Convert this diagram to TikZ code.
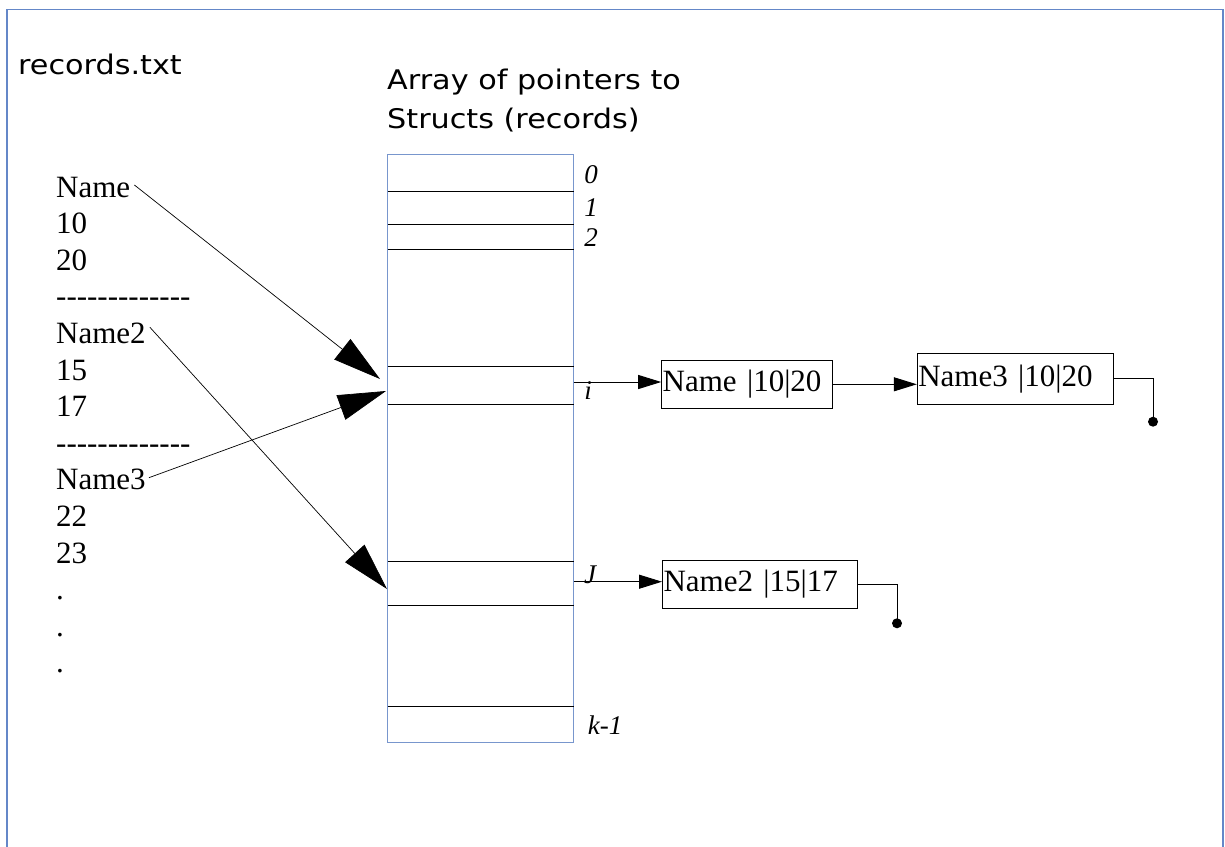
\documentclass[tikz,border=0pt]{standalone}
\usepackage{fontspec}
\setmainfont{Liberation Serif}
\newfontfamily\comic[FakeStretch=1.12]{DejaVu Sans}
\usetikzlibrary{arrows.meta}
\definecolor{framecol}{RGB}{100,135,200}
\definecolor{arrcol}{RGB}{120,150,205}
\newcommand\dashrow{-\kern0pt-\kern0pt-\kern0pt-\kern0pt-\kern0pt-\kern0pt-\kern0pt-\kern0pt-\kern0pt-\kern0pt-\kern0pt-\kern0pt-}
\tikzset{
  txt/.style={inner sep=0pt, anchor=base west, font=\fontsize{31}{36}\selectfont},
  title/.style={inner sep=0pt, anchor=base west, font=\comic\fontsize{27}{30}\selectfont},
  idx/.style={inner sep=0pt, font=\fontsize{27}{32}\selectfont\itshape},
  rec/.style={draw=black, line width=1pt, inner xsep=1pt, inner ysep=0pt, align=left,
    font=\fontsize{31}{36}\selectfont, minimum height=48pt},
  cell/.style={black, line width=1pt},
  bigarrow/.style={-{Triangle[length=48pt,width=26pt]}, line width=0.7pt, black},
  smallarrow/.style={-{Triangle[length=23pt,width=14pt]}, line width=1pt, black},
  tail/.style={line width=1pt, black},
}
\begin{document}
\begin{tikzpicture}[x=1pt,y=-1pt]
\useasboundingbox (0,0) rectangle (1225,846);
\clip (0,0) rectangle (1225,846);
% outer frame
\draw[framecol, line width=1.5pt] (7,9.5) rectangle (1223,900);

% titles
\node[title] (rt) at (18,74) {records.txt};
\node[title] (at1) at (387,89) {Array of pointers to};
\node[title] (at2) at (387,128) {Structs (records)};

% left list
\node[txt] (n1) at (56,197) {Name};
\node[txt] (l1) at (56,233.6) {10};
\node[txt] (l2) at (56,270.2) {20};
\node[txt] (l3) at (56,306.8) {\dashrow};
\node[txt] (n2) at (56,343.4) {Name2};
\node[txt] (l5) at (56,380) {15};
\node[txt] (l6) at (56,416.6) {17};
\node[txt] (l7) at (56,453.2) {\dashrow};
\node[txt] (n3) at (56,489.8) {Name3};
\node[txt] (l9) at (56,526.4) {22};
\node[txt] (l10) at (56,563) {23};
\node[txt] (l11) at (56,599.6) {.};
\node[txt] (l12) at (56,636.2) {.};
\node[txt] (l13) at (56,672.8) {.};

% array
\node[draw=arrcol, line width=1pt, minimum width=186.5pt, minimum height=588pt, inner sep=0pt] (arr) at (480.5,448.2) {};
\foreach \yy in {191,224,249,366,404.5,561,605,706}
  \draw[cell] (387.5,\yy) -- (573.5,\yy);

% indices
\node[idx] (i0) at (591,175) {0};
\node[idx] (i1) at (591,208) {1};
\node[idx] (i2) at (591,238) {2};
\node[idx] (ii) at (588,391) {i};
\node[idx] (ij) at (590,575) {J};
\node[idx] (ik) at (605,725) {k-1};

% records
\node[rec, minimum width=171pt, text width=169pt] (b1) at (747.2,384.3) {Name |10|20};
\node[rec, minimum width=196pt, minimum height=51pt, text width=194pt] (b2) at (1015.3,378.8) {\raisebox{7pt}{Name3 |10|20}};
\node[rec, minimum width=195pt, text width=193pt] (b3) at (760,584) {Name2 |15|17};

% pointer arrows from array
\coordinate (ci) at (573.5,382);
\coordinate (cj) at (573.5,581.7);
\draw[smallarrow] (ci) -- (ci -| b1.west);
\draw[smallarrow] (b1.east) -- (b1.east -| b2.west);
\draw[smallarrow] (cj) -- (cj -| b3.west);

% null tails
\coordinate (d1) at (1153,421.7);
\coordinate (d2) at (897,623.3);
\draw[tail] (b2.east) -| (d1);
\draw[tail] (b3.east) -| (d2);
\fill (d1) circle (5pt);
\fill (d2) circle (5pt);

% file-to-array arrows
\coordinate (t1) at (380,379);
\coordinate (t2) at (387,589);
\coordinate (t3) at (386,391);
\draw[bigarrow] (n1.east) ++(4,-2) -- (t1);
\draw[bigarrow] (n2.east) ++(4,-6) -- (t2);
\draw[bigarrow] (n3.east) ++(3,-2) -- (t3);
\end{tikzpicture}
\end{document}
